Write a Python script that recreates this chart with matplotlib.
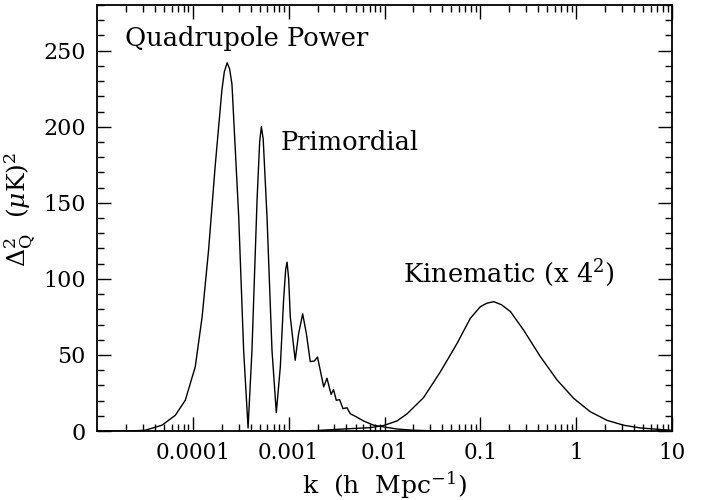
import matplotlib
matplotlib.use("Agg")
import matplotlib.pyplot as plt
from matplotlib.ticker import LogLocator, MultipleLocator, FixedLocator, FixedFormatter, NullFormatter

plt.rcParams['font.family'] = ['DejaVu Serif']
plt.rcParams['mathtext.fontset'] = 'dejavuserif'

# Primordial quadrupole power
k_prim = [1.0e-5, 2.24e-5, 3.19e-5, 4.76e-5, 6.56e-5, 8.34e-5, 1.06e-4, 1.25e-4,
          1.46e-4, 1.71e-4, 2.01e-4, 2.13e-4, 2.28e-4, 2.42e-4, 2.56e-4, 3.01e-4,
          3.39e-4, 3.77e-4, 4.14e-4, 4.68e-4, 4.98e-4, 5.19e-4, 5.42e-4, 5.94e-4,
          6.70e-4, 7.43e-4, 8.18e-4, 8.85e-4, 9.30e-4, 9.62e-4, 1.00e-3, 1.04e-3,
          1.17e-3, 1.27e-3, 1.40e-3, 1.53e-3, 1.68e-3, 1.85e-3, 2.00e-3, 2.32e-3,
          2.51e-3, 2.77e-3, 2.94e-3, 3.14e-3, 3.40e-3, 3.69e-3, 4.06e-3, 4.40e-3,
          4.95e-3, 6.05e-3, 7.69e-3, 9.79e-3, 1.35e-2, 2.01e-2, 3.82e-2]
v_prim = [0.0, 0.05, 0.5, 3.8, 10.3, 20.2, 42.2, 75.0,
          119.0, 174.0, 224.0, 236.0, 242.0, 238.0, 228.0, 141.0,
          53.0, 2.0, 53.0, 152.0, 190.0, 200.0, 192.0, 141.0,
          53.0, 12.0, 42.0, 86.0, 106.0, 111.0, 100.0, 75.0,
          46.5, 64.0, 77.0, 64.0, 45.6, 46.0, 48.6, 29.0,
          34.7, 24.1, 27.2, 20.2, 20.6, 14.7, 15.3, 11.3,
          9.7, 6.6, 3.8, 2.7, 1.3, 0.5, 0.0]

# Kinematic quadrupole power (x 4^2)
k_kin = [1.0e-3, 1.95e-3, 3.46e-3, 7.11e-3, 9.79e-3, 1.35e-2, 1.72e-2, 2.56e-2,
         3.82e-2, 5.71e-2, 7.85e-2, 0.100, 0.117, 0.138, 0.166, 0.206, 0.283,
         0.423, 0.631, 0.940, 1.40, 2.10, 3.13, 4.67, 9.60, 10.0]
v_kin = [0.0, 0.3, 1.2, 2.2, 3.6, 6.6, 11.3, 22.0,
         38.8, 57.5, 74.0, 81.7, 84.0, 85.0, 83.0, 78.5, 66.3,
         48.9, 33.6, 21.5, 12.7, 7.0, 3.8, 2.0, 0.5, 0.45]

x_ticks = [1e-4, 1e-3, 1e-2, 1e-1, 1, 10]
x_ticklabels = ['0.0001', '0.001', '0.01', '0.1', '1', '10']
y_ticks = [0, 50, 100, 150, 200, 250]

fig = plt.figure(figsize=(7.11, 5.0), dpi=100)
ax = fig.add_axes([97/711, 69/500, 575/711, 426/500])

ax.plot(k_prim, v_prim, color='black', lw=1.0)
ax.plot(k_kin, v_kin, color='black', lw=1.0)

ax.set_xscale('log')
ax.set_xlim(1e-5, 10)
ax.set_ylim(0, 280)

ax.xaxis.set_major_locator(FixedLocator(x_ticks))
ax.xaxis.set_major_formatter(FixedFormatter(x_ticklabels))
ax.xaxis.set_minor_locator(LogLocator(base=10, subs=range(2, 10), numticks=20))
ax.xaxis.set_minor_formatter(NullFormatter())
ax.yaxis.set_major_locator(FixedLocator(y_ticks))
ax.yaxis.set_minor_locator(MultipleLocator(10))

ax.tick_params(which='both', direction='in', top=True, right=True, width=1.0, pad=8)
ax.tick_params(axis='x', labelsize=15.5)
ax.tick_params(axis='y', labelsize=16)
ax.tick_params(which='major', length=10)
ax.tick_params(which='minor', length=5)
for s in ax.spines.values():
    s.set_linewidth(1.3)

ax.set_xlabel(r'k  (h  Mpc$^{-1}$)', fontsize=18, labelpad=4)
ax.set_ylabel(r'$\Delta^2_{\rm Q}$  $(\mu\mathrm{K})^2$', fontsize=18)
ax.yaxis.set_label_coords(-0.102, 0.52)

ax.text(0.049, 0.922, 'Quadrupole Power', transform=ax.transAxes, fontsize=18.5, va='center', ha='left')
ax.text(0.320, 0.678, 'Primordial', transform=ax.transAxes, fontsize=18.5, va='center', ha='left')
ax.text(0.532, 0.371, r'Kinematic (x 4$^2$)', transform=ax.transAxes, fontsize=18.5, va='center', ha='left')

fig.savefig('out.png', dpi=100)
